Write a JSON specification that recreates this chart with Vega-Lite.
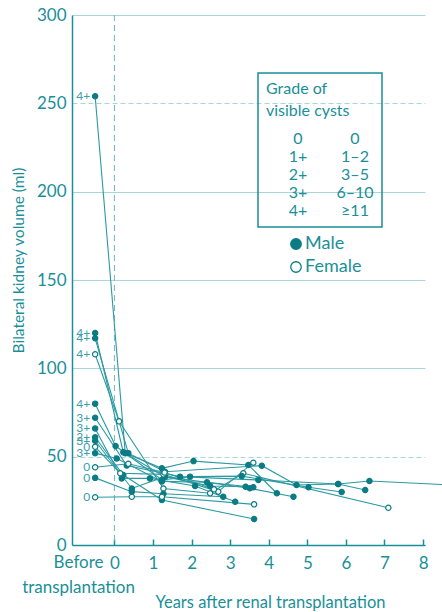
{
  "$schema": "https://vega.github.io/schema/vega-lite/v6.json",
  "width": 353,
  "height": 530,
  "autosize": {"type": "none"},
  "padding": {"left": 72, "top": 15, "right": 17, "bottom": 67},
  "background": "white",
  "config": {
    "view": {"stroke": null},
    "font": "Lato",
    "text": {"font": "Lato"},
    "legend": {"strokeWidth": 1.5}
  },
  "data": {
    "values": [
      {"id": "A", "grade": "4+", "sex": "Male", "x": -0.5, "y": 254},
      {"id": "A", "grade": "4+", "sex": "Male", "x": 0.28, "y": 52},
      {"id": "A", "grade": "4+", "sex": "Male", "x": 1.3, "y": 38.7},
      {"id": "A", "grade": "4+", "sex": "Male", "x": 2.48, "y": 33.4},
      {"id": "A", "grade": "4+", "sex": "Male", "x": 3.4, "y": 33},
      {"id": "B", "grade": "4+", "sex": "Male", "x": -0.5, "y": 120},
      {"id": "B", "grade": "4+", "sex": "Male", "x": 0.23, "y": 52.5},
      {"id": "B", "grade": "4+", "sex": "Male", "x": 1.23, "y": 43.4},
      {"id": "B", "grade": "4+", "sex": "Male", "x": 2.05, "y": 47.5},
      {"id": "B", "grade": "4+", "sex": "Male", "x": 3.47, "y": 45.3},
      {"id": "B", "grade": "4+", "sex": "Male", "x": 4.21, "y": 29.3},
      {"id": "C", "grade": "4+", "sex": "Male", "x": -0.5, "y": 117},
      {"id": "C", "grade": "4+", "sex": "Male", "x": 0.36, "y": 52},
      {"id": "C", "grade": "4+", "sex": "Male", "x": 1.31, "y": 41.5},
      {"id": "C", "grade": "4+", "sex": "Male", "x": 3.82, "y": 44.9},
      {"id": "C", "grade": "4+", "sex": "Male", "x": 4.72, "y": 34},
      {"id": "C", "grade": "4+", "sex": "Male", "x": 5.8, "y": 34.5},
      {"id": "C", "grade": "4+", "sex": "Male", "x": 6.5, "y": 31.1},
      {"id": "D", "grade": "4+", "sex": "Female", "x": -0.5, "y": 108},
      {"id": "D", "grade": "4+", "sex": "Female", "x": 0.12, "y": 70},
      {"id": "D", "grade": "4+", "sex": "Female", "x": 1.27, "y": 32},
      {"id": "D", "grade": "4+", "sex": "Female", "x": 2.48, "y": 29.3},
      {"id": "D", "grade": "4+", "sex": "Female", "x": 3.34, "y": 40.6},
      {"id": "D", "grade": "4+", "sex": "Female", "x": 7.1, "y": 21.1},
      {"id": "E", "grade": "4+", "sex": "Male", "x": -0.5, "y": 80},
      {"id": "E", "grade": "4+", "sex": "Male", "x": 0.03, "y": 56},
      {"id": "E", "grade": "4+", "sex": "Male", "x": 1.23, "y": 36.8},
      {"id": "E", "grade": "4+", "sex": "Male", "x": 1.96, "y": 38.7},
      {"id": "E", "grade": "4+", "sex": "Male", "x": 3.3, "y": 39},
      {"id": "E", "grade": "4+", "sex": "Male", "x": 5.03, "y": 32.7},
      {"id": "E", "grade": "4+", "sex": "Male", "x": 5.89, "y": 30},
      {"id": "F", "grade": "3+", "sex": "Male", "x": -0.5, "y": 72},
      {"id": "F", "grade": "3+", "sex": "Male", "x": 0.32, "y": 45},
      {"id": "F", "grade": "3+", "sex": "Male", "x": 1.7, "y": 38.7},
      {"id": "F", "grade": "3+", "sex": "Male", "x": 3.73, "y": 36.8},
      {"id": "F", "grade": "3+", "sex": "Male", "x": 5.8, "y": 34.5},
      {"id": "F", "grade": "3+", "sex": "Male", "x": 6.61, "y": 36.2},
      {"id": "F", "grade": "3+", "sex": "Male", "x": 8.5, "y": 34.2},
      {"id": "G", "grade": "3+", "sex": "Male", "x": -0.5, "y": 66},
      {"id": "G", "grade": "3+", "sex": "Male", "x": 0.19, "y": 37.7},
      {"id": "G", "grade": "3+", "sex": "Male", "x": 0.92, "y": 37.7},
      {"id": "G", "grade": "3+", "sex": "Male", "x": 2.09, "y": 33.4},
      {"id": "G", "grade": "3+", "sex": "Male", "x": 3.13, "y": 24.5},
      {"id": "H", "grade": "2+", "sex": "Male", "x": -0.5, "y": 61},
      {"id": "H", "grade": "2+", "sex": "Male", "x": 0.23, "y": 39.6},
      {"id": "H", "grade": "2+", "sex": "Male", "x": 1.23, "y": 25.5},
      {"id": "H", "grade": "2+", "sex": "Male", "x": 3.62, "y": 14.7},
      {"id": "I", "grade": "3+", "sex": "Male", "x": -0.5, "y": 59},
      {"id": "I", "grade": "3+", "sex": "Male", "x": 0.45, "y": 32},
      {"id": "I", "grade": "3+", "sex": "Male", "x": 1.31, "y": 38.7},
      {"id": "I", "grade": "3+", "sex": "Male", "x": 3.51, "y": 32.1},
      {"id": "I", "grade": "3+", "sex": "Male", "x": 4.64, "y": 27.3},
      {"id": "J", "grade": "0", "sex": "Female", "x": -0.5, "y": 55.6},
      {"id": "J", "grade": "0", "sex": "Female", "x": 0.15, "y": 40.6},
      {"id": "J", "grade": "0", "sex": "Female", "x": 1.27, "y": 40},
      {"id": "J", "grade": "0", "sex": "Female", "x": 2.69, "y": 30.2},
      {"id": "J", "grade": "0", "sex": "Female", "x": 3.6, "y": 46.6},
      {"id": "K", "grade": "3+", "sex": "Male", "x": -0.5, "y": 52},
      {"id": "K", "grade": "3+", "sex": "Male", "x": 0.06, "y": 49},
      {"id": "K", "grade": "3+", "sex": "Male", "x": 1.23, "y": 36},
      {"id": "K", "grade": "3+", "sex": "Male", "x": 2.4, "y": 35.5},
      {"id": "K", "grade": "3+", "sex": "Male", "x": 3.6, "y": 32.7},
      {"id": "L", "grade": "0", "sex": "Female", "x": -0.5, "y": 44},
      {"id": "L", "grade": "0", "sex": "Female", "x": 0.36, "y": 46},
      {"id": "L", "grade": "0", "sex": "Female", "x": 1.3, "y": 41},
      {"id": "L", "grade": "0", "sex": "Female", "x": 2.58, "y": 31.5},
      {"id": "M", "grade": "0", "sex": "Male", "x": -0.5, "y": 38},
      {"id": "M", "grade": "0", "sex": "Male", "x": 0.45, "y": 30.2},
      {"id": "M", "grade": "0", "sex": "Male", "x": 1.27, "y": 29},
      {"id": "M", "grade": "0", "sex": "Male", "x": 2.82, "y": 27.3},
      {"id": "N", "grade": "0", "sex": "Female", "x": -0.5, "y": 27},
      {"id": "N", "grade": "0", "sex": "Female", "x": 0.45, "y": 27.3},
      {"id": "N", "grade": "0", "sex": "Female", "x": 1.23, "y": 27.3},
      {"id": "N", "grade": "0", "sex": "Female", "x": 3.62, "y": 23}
    ]
  },
  "layer": [
    {
      "data": {"values": [{"label": "zero"}]},
      "mark": {"type": "rule", "strokeDash": [6, 4], "color": "#6bbac0", "strokeWidth": 1},
      "encoding": {
        "x": {"datum": 0, "type": "quantitative", "scale": {"domain": [-1.1, 8.05], "nice": false, "zero": false}}
      }
    },
    {
      "mark": {"type": "line", "color": "#2b9aa2", "strokeWidth": 1.1},
      "encoding": {
        "x": {
          "field": "x",
          "type": "quantitative",
          "scale": {"domain": [-1.1, 8.05], "nice": false, "zero": false},
          "axis": {
            "values": [0, 1, 2, 3, 4, 5, 6, 7, 8],
            "grid": false,
            "tickSize": -6,
            "tickColor": "#1a8f98",
            "tickWidth": 1.5,
            "domainColor": "#1a8f98",
            "domainWidth": 1.5,
            "labelColor": "#1a8f98",
            "labelFontSize": 17,
            "labelPadding": 16,
            "labelFlush": false,
            "labelOverlap": false,
            "title": "Years after renal transplantation",
            "titleFontSize": 16.5,
            "titleFontWeight": "normal",
            "titleColor": "#1a8f98",
            "titleX": 198,
            "titleY": 62,
            "titleAlign": "center",
            "titleBaseline": "alphabetic"
          }
        },
        "y": {
          "field": "y",
          "type": "quantitative",
          "scale": {"domain": [0, 300], "nice": false},
          "axis": {
            "values": [0, 50, 100, 150, 200, 250, 300],
            "grid": true,
            "gridColor": "#a9d6da",
            "gridWidth": 1.2,
            "gridDash": {"condition": {"test": "datum.value === 50 || datum.value === 250", "value": [5, 3]}, "value": []},
            "ticks": false,
            "domainColor": "#1a8f98",
            "domainWidth": 1.5,
            "labelColor": "#1a8f98",
            "labelFontSize": 17,
            "labelPadding": 6,
            "title": "Bilateral kidney volume (ml)",
            "titleFontSize": 15.5,
            "titleFontWeight": "normal",
            "titleColor": "#1a8f98",
            "titlePadding": 10,
            "titleY": 245
          }
        },
        "detail": {"field": "id"}
      }
    },
    {
      "data": {"values": [{"label": "Before transplantation"}]},
      "mark": {"type": "text", "align": "center", "baseline": "middle", "fontSize": 17, "lineHeight": 25, "color": "#1a8f98", "clip": false},
      "encoding": {
        "x": {"datum": -0.93, "type": "quantitative", "scale": {"domain": [-1.1, 8.05], "nice": false, "zero": false}},
        "y": {"datum": -10.2, "type": "quantitative", "scale": {"domain": [0, 300], "nice": false}},
        "text": {"value": ["Before", "transplantation"]}
      }
    },
    {
      "transform": [{"filter": "datum.x <= 8.05"}],
      "mark": {"type": "point", "shape": "circle", "filled": true, "size": 28, "stroke": "#0b7c84", "strokeWidth": 1.2, "opacity": 1},
      "encoding": {
        "x": {"field": "x", "type": "quantitative", "scale": {"domain": [-1.1, 8.05], "nice": false, "zero": false}},
        "y": {"field": "y", "type": "quantitative", "scale": {"domain": [0, 300], "nice": false}},
        "fill": {
          "field": "sex",
          "type": "nominal",
          "scale": {"domain": ["Male", "Female"], "range": ["#0b7c84", "#ffffff"]},
          "legend": {
            "orient": "none",
            "legendX": 215,
            "legendY": 220,
            "title": null,
            "padding": 0,
            "strokeColor": null,
            "labelFontSize": 18,
            "labelColor": "#1a8f98",
            "labelOffset": 0,
            "symbolSize": 110,
            "symbolType": "circle",
            "symbolStrokeColor": "#0b7c84",
            "symbolStrokeWidth": 1.3,
            "rowPadding": 5
          }
        }
      }
    },
    {
      "transform": [{"filter": "datum.x < 0"}],
      "mark": {"type": "text", "align": "right", "baseline": "middle", "dx": -5, "color": "#3aa0a8"},
      "encoding": {
        "x": {"field": "x", "type": "quantitative", "scale": {"domain": [-1.1, 8.05], "nice": false, "zero": false}},
        "y": {"field": "y", "type": "quantitative", "scale": {"domain": [0, 300], "nice": false}},
        "text": {"field": "grade"},
        "size": {
          "field": "grade",
          "type": "ordinal",
          "scale": {"domain": ["0", "1+", "2+", "3+", "4+", "0 ", "1–2", "3–5", "6–10", "≥11"], "range": [12, 12]},
          "legend": {
            "orient": "none",
            "legendX": 186,
            "legendY": 58,
            "title": ["Grade of", "visible cysts"],
            "titleFontSize": 16,
            "titleFontWeight": "normal",
            "titleColor": "#1a8f98",
            "titlePadding": 12,
            "titleLineHeight": 22,
            "columns": 2,
            "symbolOpacity": 0,
            "symbolStrokeWidth": 0,
            "labelExpr": "indexof(['0 ', '1–2', '3–5', '6–10', '≥11'], datum.value) >= 0 ? (datum.value === '0 ' ? '0' : datum.value) + '\u00a0\u00a0\u00a0\u00a0\u00a0' : datum.value",
            "labelFontSize": 16,
            "labelColor": "#1a8f98",
            "labelAlign": "center",
            "labelOffset": 16,
            "columnPadding": 15,
            "rowPadding": 2,
            "padding": 8,
            "strokeColor": "#1a8f98"
          }
        }
      }
    }
  ]
}
